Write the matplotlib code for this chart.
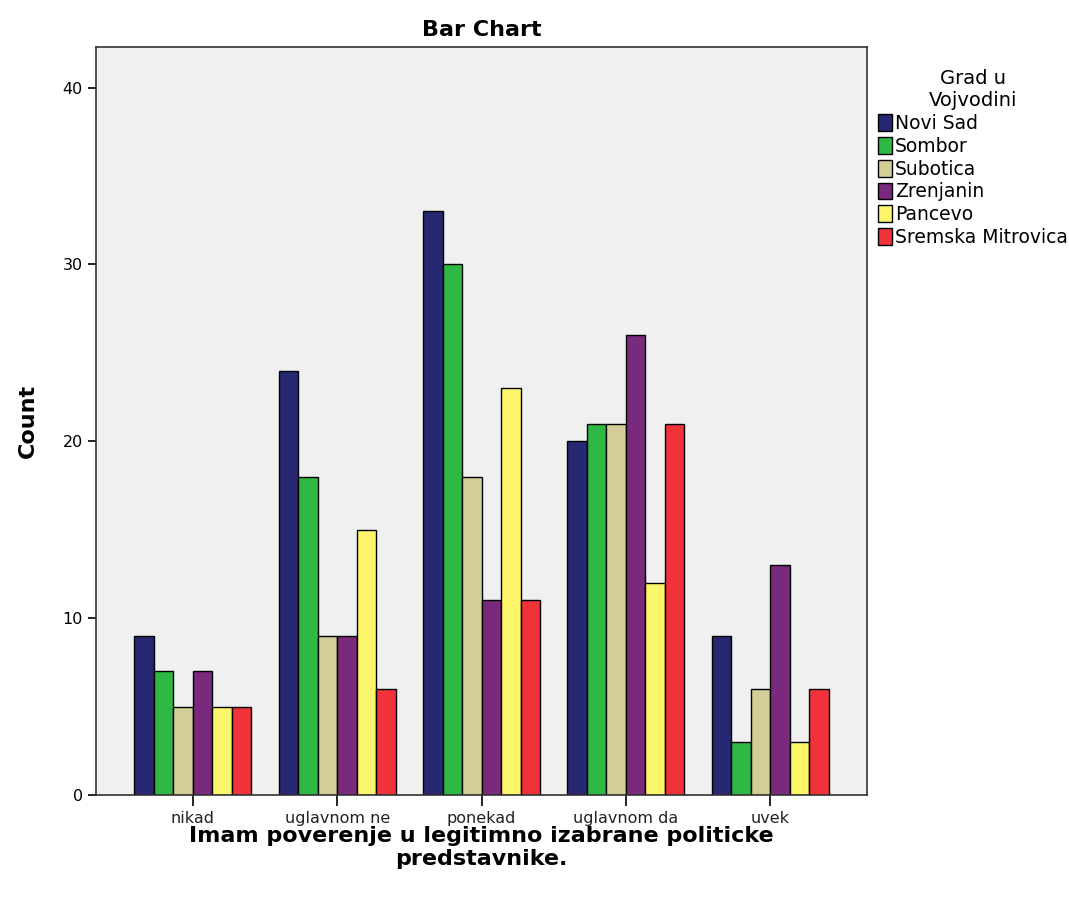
import matplotlib
matplotlib.use("Agg")
import matplotlib.pyplot as plt
import numpy as np

categories = ["nikad", "uglavnom ne", "ponekad", "uglavnom da", "uvek"]
cities = ["Novi Sad", "Sombor", "Subotica", "Zrenjanin", "Pancevo", "Sremska Mitrovica"]
novi_sad = [9, 24, 33, 20, 9]
sombor = [7, 18, 30, 21, 3]
subotica = [5, 9, 18, 21, 6]
zrenjanin = [7, 9, 11, 26, 13]
pancevo = [5, 15, 23, 12, 3]
sremska = [5, 6, 11, 21, 6]
series = [novi_sad, sombor, subotica, zrenjanin, pancevo, sremska]
colors = ["#262871", "#2fb844", "#d3ce97", "#792a7c", "#fdf66b", "#f0323a"]

plt.rcParams['font.family'] = ['DejaVu Sans']
fig = plt.figure(figsize=(10.69, 9.02), dpi=100)
ax = fig.add_axes([0.0898, 0.1186, 0.7213, 0.8294])
ax.set_facecolor("#f0f0f0")

x = np.arange(len(categories))
w = 0.135
for i, (vals, c, name) in enumerate(zip(series, colors, cities)):
    ax.bar(x + (i - 2.5) * w, vals, width=w, color=c, edgecolor="black",
           linewidth=1.0, label=name)

ax.set_xlim(-0.67, 4.67)
ax.set_ylim(0, 42.3)
ax.set_yticks([0, 10, 20, 30, 40])
ax.set_xticks(x)
ax.set_xticklabels(categories, fontsize=11.5, color="#222222")
ax.tick_params(axis='y', labelsize=11.5, length=6, width=1.2)
ax.tick_params(axis='x', length=8, width=1.2)
for s in ax.spines.values():
    s.set_linewidth(1.2)
    s.set_color("#333333")

ax.set_ylabel("Count", fontsize=16, fontweight="bold", labelpad=18)
ax.set_xlabel("Imam poverenje u legitimno izabrane politicke\npredstavnike.",
              fontsize=16, fontweight="bold", linespacing=1.2, labelpad=0)
ax.set_title("Bar Chart", fontsize=16, fontweight="bold", pad=8)

leg = ax.legend(loc="upper left", bbox_to_anchor=(1.0, 0.985), frameon=False,
                title="Grad u\nVojvodini", title_fontsize=14, fontsize=13.5,
                handlelength=0.75, handleheight=1.0, handletextpad=0.15,
                labelspacing=0.2, borderaxespad=0.2)
leg._legend_box.align = "center"
leg.get_title().set_multialignment("center")

fig.savefig("out.png", dpi=100)
